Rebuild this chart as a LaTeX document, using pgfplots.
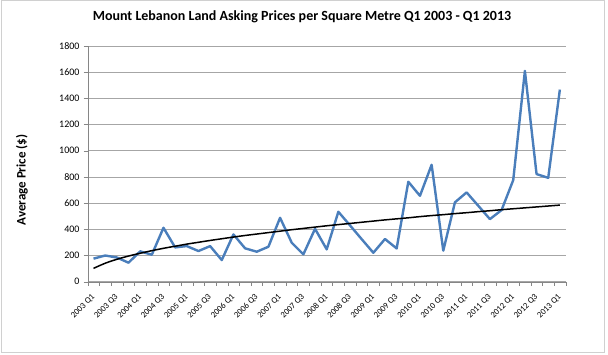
\documentclass[border=0pt]{standalone}
\usepackage{pgfplots}
\pgfplotsset{compat=1.18}
\usepackage{fontspec}
\setmainfont{Carlito}
\definecolor{xlblue}{HTML}{4A7EBB}
\definecolor{gridgray}{HTML}{A6A6A6}
\definecolor{axgray}{HTML}{868686}
\definecolor{framegray}{HTML}{D0D0D0}
\begin{document}
\begin{tikzpicture}[x=1pt,y=1pt]
\useasboundingbox (0,0) rectangle (608,354);
\draw[framegray, line width=1pt] (1,1.5) rectangle (604.5,353);
\begin{axis}[
  at={(87.7pt,72.3pt)}, anchor=south west,
  scale only axis, width=478pt, height=235.7pt,
  xmin=-0.5, xmax=40.5, ymin=0, ymax=1800,
  ytick={0,200,...,1800},
  xtick={0,2,...,40},
  xticklabels={2003 Q1,2003 Q3,2004 Q1,2004 Q3,2005 Q1,2005 Q3,2006 Q1,2006 Q3,2007 Q1,2007 Q3,2008 Q1,2008 Q3,2009 Q1,2009 Q3,2010 Q1,2010 Q3,2011 Q1,2011 Q3,2012 Q1,2012 Q3,2013 Q1},
  minor xtick={-0.5,0.5,...,40.5},
  major x tick style={draw=none},
  minor x tick style={axgray},
  y tick style={axgray},
  tick align=outside,
  major tick length=4pt, minor tick length=4pt,
  axis lines*=left,
  axis line style={-, axgray},
  ymajorgrids, grid style={gridgray, line width=0.8pt},
  /pgf/number format/assume math mode=true,
  /pgf/number format/set thousands separator={},
  yticklabel style={font=\fontsize{10}{12}\selectfont, inner sep=1pt, xshift=-3pt},
  xticklabel style={font=\fontsize{8.6}{10}\selectfont, anchor=east, rotate=45, inner sep=0pt},
  xticklabel shift=10pt,
  title={Mount Lebanon Land Asking Prices per Square Metre Q1 2003 - Q1 2013},
  title style={font=\bfseries\fontsize{14}{16}\selectfont, at={(axis description cs:0.4483,1.0997)}, anchor=center},
  ylabel={Average Price (\$)},
  ylabel style={font=\bfseries\fontsize{13}{15}\selectfont, at={(axis description cs:-0.1374,0.4315)}, anchor=center},
  clip=false,
]
\addplot[xlblue, line width=2.4pt, line join=round] coordinates {
(0,176) (1,200) (2,185) (3,145) (4,232) (5,206) (6,412) (7,262) (8,272) (9,234)
(10,272) (11,165) (12,361) (13,255) (14,229) (15,267) (16,488) (17,298) (18,209) (19,404)
(20,247) (21,534) (22,430) (23,325) (24,221) (25,326) (26,254) (27,763) (28,656) (29,893)
(30,237) (31,606) (32,682) (33,580) (34,478) (35,547) (36,776) (37,1610) (38,822) (39,793)
(40,1467)
};
\addplot[black, line width=1.5pt, smooth] coordinates {
(0,102) (1,141) (2,171) (3,196) (4,217) (5,237) (6,255) (7,271) (8,287) (9,301)
(10,315) (11,328) (12,341) (13,353) (14,364) (15,375) (16,386) (17,397) (18,407) (19,417)
(20,427) (21,436) (22,445) (23,454) (24,463) (25,472) (26,480) (27,488) (28,497) (29,505)
(30,512) (31,520) (32,527) (33,535) (34,542) (35,550) (36,557) (37,564) (38,571) (39,578)
(40,585)
};
\end{axis}
\end{tikzpicture}
\end{document}
